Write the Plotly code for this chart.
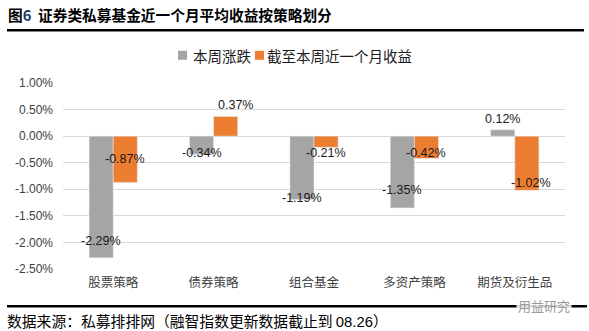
import plotly.graph_objects as go

categories = ["股票策略", "债券策略", "组合基金", "多资产策略", "期货及衍生品"]
weekly = [-2.29, -0.34, -1.19, -1.35, 0.12]
monthly = [-0.87, 0.37, -0.21, -0.42, -1.02]
series_names = ["本周涨跌", "截至本周近一个月收益"]
tick_vals = [1.0, 0.5, 0.0, -0.5, -1.0, -1.5, -2.0, -2.5]
tick_text = [f"{v:.2f}%" for v in tick_vals]

# label pixel offsets (style only)
weekly_dy = [17, 1, 1, 18, 11]
monthly_dy = [23, 11, -6, 5, 7]
weekly_dx = [0, 0, 0, 0, 0]
monthly_dx = [0, 10, 0, 0, 4]

W, H = 589, 331
L, R, T, B = 63, 24, 82.7, 62.3
GRAY = "#a5a5a5"
ORANGE = "#ed7d31"
CJK = "Noto Sans CJK SC"

def px_x(px):
    return (px - L) / (W - L - R)

def px_y(py):
    return 1 - (py - T) / (H - T - B)

fig = go.Figure()
fig.add_trace(go.Bar(x=categories, y=weekly, name=series_names[0], marker_color=GRAY, showlegend=False))
fig.add_trace(go.Bar(x=categories, y=monthly, name=series_names[1], marker_color=ORANGE, showlegend=False))

annotations = []
for i, c in enumerate(categories):
    for vals, dys, dxs, off in ((weekly, weekly_dy, weekly_dx, -12), (monthly, monthly_dy, monthly_dx, 12)):
        v = vals[i]
        annotations.append(dict(
            x=c, y=v, xref="x", yref="y", text=f"{v:.2f}%", showarrow=False,
            xshift=off + dxs[i], yshift=dys[i],
            font=dict(family="Liberation Sans, Arial", size=12.5, color="#1a1a1a"),
        ))

# title
annotations.append(dict(
    x=px_x(6), y=px_y(14), xref="paper", yref="paper", xanchor="left", yanchor="middle",
    text="<b>图</b><b><span style='color:#1f3864'>6</span></b><b>  证券类私募基金近一个月平均收益按策略划分</b>",
    showarrow=False, font=dict(family=CJK, size=14.7, color="#000000"),
))
# source
annotations.append(dict(
    x=px_x(5), y=px_y(320), xref="paper", yref="paper", xanchor="left", yanchor="middle",
    text="数据来源：私募排排网（融智指数更新数据截止到 <span style='font-family:Liberation Sans'>08.26</span>）",
    showarrow=False, font=dict(family=CJK, size=14.8, color="#000000"),
))
# watermark
annotations.append(dict(
    x=px_x(544), y=px_y(305), xref="paper", yref="paper", xanchor="center", yanchor="middle",
    text="用益研究", showarrow=False, bgcolor="rgba(255,255,255,0.85)",
    font=dict(family=CJK, size=13, color="#9a9a9a"),
))

shapes = [
    dict(type="line", xref="paper", yref="paper", x0=px_x(7), x1=px_x(584), y0=px_y(30), y1=px_y(30),
         line=dict(color="#000000", width=2.5)),
    dict(type="line", xref="paper", yref="paper", x0=px_x(7), x1=px_x(587), y0=px_y(306), y1=px_y(306),
         line=dict(color="#000000", width=2.5)),
]

# custom legend
legend_items = [(series_names[0], GRAY, 178, 191), (series_names[1], ORANGE, 255, 265)]
for name, col, sx, tx in legend_items:
    shapes.append(dict(type="rect", xref="paper", yref="paper",
                       x0=px_x(sx), x1=px_x(sx + 9), y0=px_y(50.5), y1=px_y(59.5),
                       fillcolor=col, line=dict(width=0)))
    annotations.append(dict(x=px_x(tx), y=px_y(55), xref="paper", yref="paper",
                            xanchor="left", yanchor="middle", text=name, showarrow=False,
                            font=dict(family=CJK, size=14.5, color="#1a1a1a")))

fig.update_layout(
    width=W, height=H,
    margin=dict(l=L, r=R, t=T, b=B, pad=0),
    paper_bgcolor="white", plot_bgcolor="white",
    barmode="group", bargap=0.52, bargroupgap=0,
    showlegend=False,
    annotations=annotations,
    shapes=shapes,
    xaxis=dict(showgrid=False, showline=False, zeroline=False, ticks="",
               tickfont=dict(family=CJK, size=12.5, color="#404040"), ticklabelstandoff=4),
    yaxis=dict(range=[-2.5, 1.0], tickvals=tick_vals, ticktext=tick_text,
               showgrid=True, gridcolor="#d9d9d9", gridwidth=1, zeroline=True,
               zerolinecolor="#d9d9d9", zerolinewidth=1, showline=False, ticks="",
               tickfont=dict(family="Liberation Sans, Arial", size=12, color="#404040"),
               ticklabelstandoff=9),
)

fig.write_html("out.html")
